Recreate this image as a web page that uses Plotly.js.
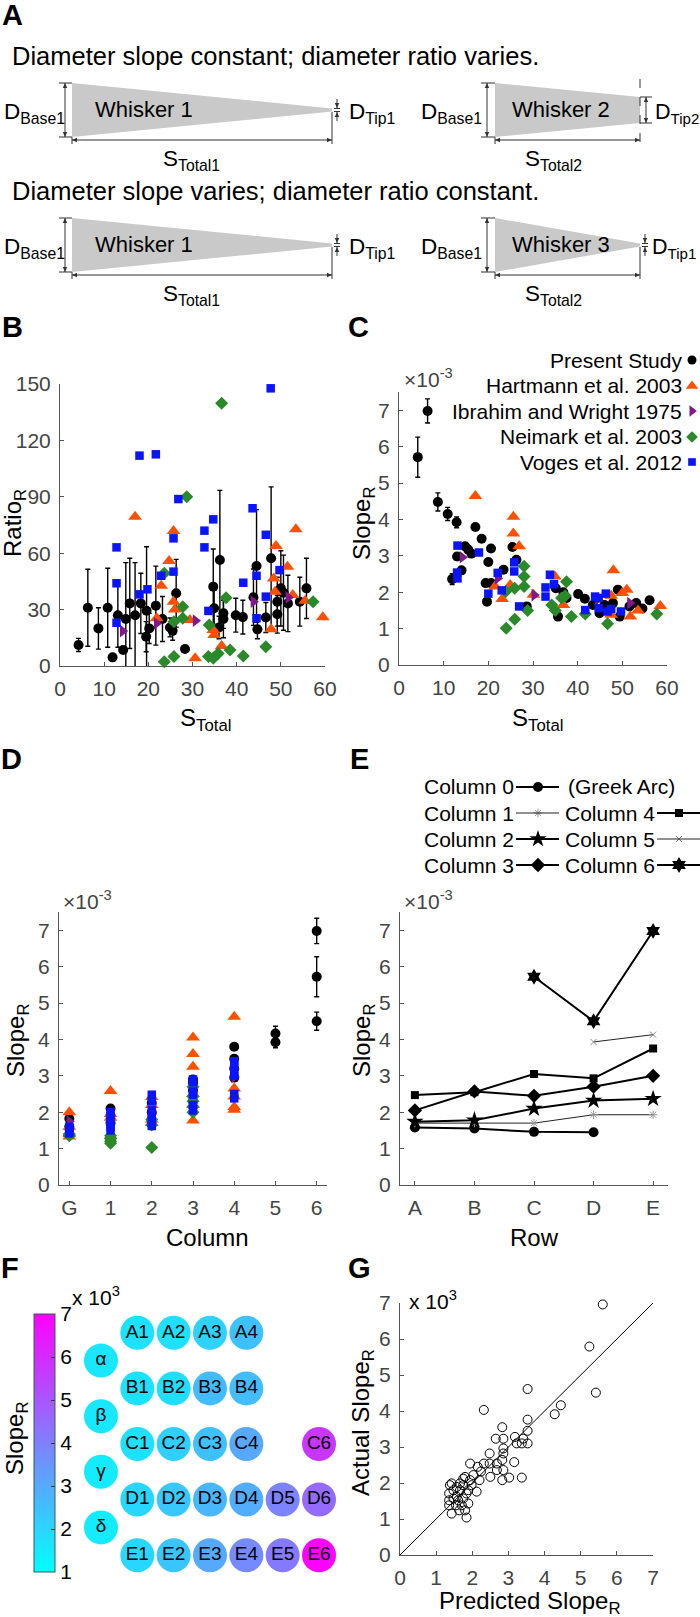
<!DOCTYPE html>
<html><head><meta charset="utf-8">
<script src="https://cdn.plot.ly/plotly-3.0.1.min.js"></script>
<style>html,body{margin:0;padding:0;background:#fff}#chart{width:700px;height:1617px}</style>
</head><body><div id="chart"></div>
<script>
// ---------------- DATA ----------------
// Panel B: Ratio_R vs S_Total
const bPresS = [4.2,6.3,8.7,10.8,11.9,13.1,14.3,14.9,15.8,17.0,18.3,19.5,19.6,20.2,21.7,23.2,24.9,25.5,26.3,28.3,34.7,34.9,36.0,36.2,37.0,37.0,39.8,41.4,43.8,44.5,44.7,46.6,47.8,49.2,49.2,50.0,50.6,51.6,54.3,55.8];
const bPresRatio = [11.2,31.0,20.0,31.0,4.6,27.0,8.5,25.0,33.3,27.0,33.3,15.6,29.4,20.0,32.1,25.0,20.5,18.7,38.7,9.0,42.2,30.7,20.5,56.4,28.0,25.0,27.0,26.0,36.6,53.2,19.5,25.8,57.3,27.5,34.2,41.3,39.0,33.3,34.2,41.3];
const bPresErr = [3.5,20.5,11,21,0,17,0,30,24,28,16,8,34,8,21,12,5,5,18,0,20,10,6,37,8,10,9,9,15,30,5,8,38,10,13,20,20,15,13,16];
const bHartS = [17.0,25.7,24.7,22.9,21.9,25.7,26.0,29.4,30.6,34.7,34.9,36.6,47.8,48.9,48.4,48.7,51.5,52.7,53.4,55.5,59.5];
const bHartRatio = [79.4,71.8,55.9,42.7,25.4,34.2,30.0,24.5,4.1,19.1,16.5,10.6,19.5,63.8,46.6,39.5,52.8,37.8,72.7,34.7,25.9];
const bIbrS = [14.2,21.9,30.7,43.8,51.7];
const bIbrRatio = [18.6,22.7,24.1,34.2,36.5];
const bNeiS = [23.6,27.8,28.7,23.6,25.8,27.8,25.8,33.6,34.7,35.8,38.5,41.5,46.6,37.6,33.8,36.6,57.3];
const bNeiRatio = [49.3,31.5,90.0,2.3,5.0,25.4,23.6,5.0,4.1,6.7,8.5,5.3,10.3,36.3,21.8,139.7,34.2];
const bVogS = [47.7,18.0,21.7,26.8,12.8,12.8,25.7,25.7,22.9,32.7,34.7,32.7,43.6,46.6,49.7,41.5,44.5,46.6,18.0,19.8,12.8,33.6,44.5];
const bVogRatio = [147.7,111.9,112.6,88.8,63.1,44.0,67.9,50.2,48.0,72.0,78.0,63.1,83.9,69.8,51.0,44.3,48.0,36.9,38.1,40.8,23.0,29.3,25.4];

// Panel C: Slope_R (x10^-3) vs S_Total
const cPresS = [4.2,6.4,8.7,10.9,12.9,17.1,18.5,20.6,20.0,14.8,15.5,16.2,13.0,14.0,11.9,19.4,20.6,19.7,23.4,25.4,26.3,28.6,35.1,35.6,36.8,37.5,40.1,41.6,43.4,44.9,46.0,49.0,49.4,47.9,51.6,53.1,54.5,56.1];
const cPresSlope = [5.71,6.98,4.48,4.15,3.92,3.79,3.47,3.20,2.83,3.26,3.17,3.06,2.98,2.60,2.36,2.25,2.25,1.74,2.62,3.24,2.89,1.61,2.11,1.33,2.00,1.84,1.95,1.82,1.65,1.42,1.65,2.07,1.33,1.70,1.61,1.70,1.55,1.78];
const cPresErr = [0.55,0.33,0.25,0.18,0.15,0,0,0,0,0,0,0,0.1,0.1,0.15,0,0,0,0,0,0,0,0,0,0,0,0,0,0,0,0,0,0,0,0,0,0,0];
const cHartS = [17.1,25.6,25.6,26.9,23.1,21.5,24.9,30.1,34.9,36.8,48.0,47.5,47.5,50.0,51.0,51.8,53.5,58.5];
const cHartSlope = [4.64,4.07,3.61,3.26,1.81,2.16,2.20,1.93,2.43,1.65,2.60,1.90,1.38,1.98,2.07,1.33,1.50,1.62];
const cIbrS = [14.2,22.1,30.3,44.5,51.7];
const cIbrSlope = [2.96,2.38,1.92,1.80,1.70];
const cNeiS = [28.0,28.0,28.0,25.9,23.9,24.0,25.9,28.8,37.5,36.4,34.2,35.0,38.6,41.7,46.7,57.7,37.2];
const cNeiSlope = [2.71,2.43,2.16,2.11,2.02,1.01,1.26,1.50,2.29,1.84,1.65,1.50,1.33,1.40,1.13,1.40,1.90];
const cVogS = [13.1,17.9,13.0,13.1,22.1,23.0,20.0,25.8,25.8,26.9,33.8,34.7,32.8,32.8,41.7,43.9,44.7,44.7,46.3,46.7,47.5,49.7];
const cVogSlope = [3.28,3.09,2.54,2.38,2.53,2.05,1.96,2.82,2.57,1.61,2.48,2.22,2.13,1.88,1.51,1.88,1.84,1.56,1.96,1.47,1.54,1.47];

// Panel D: Slope_R by column
const columnLabels = ['G','1','2','3','4','5','6'];
const dPresCol = [0,0,0,1,1,1,2,2,2,3,3,3,3,4,4,4,4,5,5,6,6,6];
const dPresSlope = [1.82,1.60,1.55,2.10,1.90,1.70,2.25,2.00,1.75,2.90,2.80,2.60,2.30,3.80,3.47,3.20,2.95,4.16,3.92,6.98,5.72,4.50];
const dPresErr = [0,0,0,0,0,0,0,0,0,0,0,0,0,0,0,0,0,0.2,0.15,0.35,0.55,0.25];
const dHartCol = [0,0,0,0,1,1,1,1,2,2,2,2,3,3,3,3,3,3,4,4,4,4,4];
const dHartSlope = [2.00,1.60,1.40,1.33,2.58,1.95,1.85,1.35,2.42,2.20,1.80,1.70,4.05,3.60,3.25,2.50,2.20,1.77,4.62,2.65,2.43,2.14,2.07];
const dIbrCol = [0,1,2,3,4];
const dIbrSlope = [1.75,1.90,1.95,2.43,2.97];
const dNeiCol = [0,0,0,1,1,1,1,2,2,2,3,3,3,3,3];
const dNeiSlope = [1.38,1.35,1.40,1.27,1.20,1.15,1.35,1.03,1.80,1.65,2.70,2.43,2.30,2.16,2.00];
const dVogCol = [0,0,0,0,0,1,1,1,1,1,2,2,2,2,2,2,3,3,3,3,3,3,4,4,4,4,4,4];
const dVogSlope = [1.60,1.50,1.47,1.55,1.42,2.00,1.88,1.75,1.60,1.50,2.48,2.30,2.05,1.95,1.80,1.62,2.90,2.82,2.57,2.48,2.20,2.05,3.40,3.28,3.10,3.00,2.50,2.38];

// Panel E: mean Slope_R per row for each column
const rowLabels = ['A','B','C','D','E'];
const eCol0 = [1.58,1.55,1.46,1.45,null];
const eCol1 = [1.70,1.70,1.70,1.93,1.93];
const eCol2 = [1.74,1.78,2.10,2.32,2.37];
const eCol3 = [2.05,2.57,2.45,2.70,3.00];
const eCol4 = [2.47,2.55,3.05,2.93,3.75];
const eCol5 = [null,null,null,3.93,4.13];
const eCol6 = [null,null,5.72,4.50,6.98];

// Panel F: whisker array map
const fLabels = ['α','β','γ','δ','A1','A2','A3','A4','B1','B2','B3','B4','C1','C2','C3','C4','C6','D1','D2','D3','D4','D5','D6','E1','E2','E3','E4','E5','E6'];
const fCol = [0,0,0,0,1,2,3,4,1,2,3,4,1,2,3,4,6,1,2,3,4,5,6,1,2,3,4,5,6];
const fRow = [0.5,1.5,2.5,3.5,0,0,0,0,1,1,1,1,2,2,2,2,2,3,3,3,3,3,3,4,4,4,4,4,4];
const fSlope = [1.58,1.55,1.46,1.45,1.70,1.74,2.05,2.47,1.70,1.78,2.57,2.55,1.70,2.10,2.45,3.05,5.72,1.93,2.32,2.70,2.93,3.93,4.50,1.93,2.37,3.00,3.75,4.13,6.98];
const cbTicks = [1,2,3,4,5,6,7];

// Panel G: predicted vs actual
const gPred = [5.61,5.24,5.42,3.53,2.32,4.45,4.28,3.53,3.53,3.53,3.37,2.83,2.65,2.86,3.18,3.41,3.23,3.37,2.86,2.86,2.83,2.86,2.83,3.02,3.16,2.48,2.48,2.68,2.68,2.32,2.50,2.24,2.15,2.20,1.94,1.94,2.03,1.98,2.12,1.80,1.75,1.84,1.89,1.80,1.84,1.66,1.57,1.48,1.38,1.36,1.36,1.36,1.43,1.55,1.61,1.71,1.75,1.57,1.75,1.48,1.89,1.64,1.43,1.66];
const gAct = [6.96,5.79,4.51,4.61,4.03,4.16,3.91,3.76,3.45,3.10,2.15,3.55,3.23,3.23,3.28,3.23,3.10,3.10,2.96,2.82,2.64,2.36,2.08,2.15,2.58,2.82,2.54,2.54,2.36,2.54,2.17,2.32,2.45,2.08,2.54,2.08,2.22,1.94,1.76,2.17,1.94,1.71,1.43,1.24,1.04,1.80,1.62,1.80,1.94,1.71,1.52,1.38,1.15,1.38,1.52,1.38,1.57,1.89,2.12,1.57,1.80,1.24,1.99,1.99];
const unityLine = [0,7];

const sourceNames = ['Present Study','Hartmann et al. 2003','Ibrahim and Wright 1975','Neimark et al. 2003','Voges et al. 2012'];
const eLegendNames = ['Column 0','Column 1','Column 2','Column 3','Column 4','Column 5','Column 6'];

// ---------------- STYLE ----------------
const FONT = 'Liberation Sans, Arial, Helvetica, sans-serif';
const W = 700, H = 1617;
const P = x => x / W, Q = y => 1 - y / H;
const COL = {pres:'#000000', hart:'#ff5000', ibr:'#80198c', nei:'#2a8a2a', vog:'#0a14ff'};
const SYM = {pres:'circle', hart:'triangle-up', ibr:'triangle-right', nei:'diamond', vog:'square'};
const SIZE = {pres:10, hart:12, ibr:11, nei:10, vog:8.5};

function srcTrace(key, xs, ys, xa, ya, err) {
  const t = {type:'scatter', mode:'markers', x:xs, y:ys, xaxis:xa, yaxis:ya, cliponaxis:false,
    marker:{symbol:SYM[key], color:COL[key], size:SIZE[key], line:{width:0}}, showlegend:false, hoverinfo:'skip'};
  if (err) t.error_y = {type:'data', array:err, visible:true, color:'#000', thickness:1.4, width:2.5};
  return t;
}

const traces = [];
// B
traces.push(srcTrace('pres', bPresS, bPresRatio, 'x', 'y', bPresErr));
traces.push(srcTrace('hart', bHartS, bHartRatio, 'x', 'y'));
traces.push(srcTrace('ibr', bIbrS, bIbrRatio, 'x', 'y'));
traces.push(srcTrace('nei', bNeiS, bNeiRatio, 'x', 'y'));
traces.push(srcTrace('vog', bVogS, bVogRatio, 'x', 'y'));
// C
traces.push(srcTrace('pres', cPresS, cPresSlope, 'x2', 'y2', cPresErr));
traces.push(srcTrace('hart', cHartS, cHartSlope, 'x2', 'y2'));
traces.push(srcTrace('ibr', cIbrS, cIbrSlope, 'x2', 'y2'));
traces.push(srcTrace('nei', cNeiS, cNeiSlope, 'x2', 'y2'));
traces.push(srcTrace('vog', cVogS, cVogSlope, 'x2', 'y2'));
// D
traces.push(srcTrace('pres', dPresCol, dPresSlope, 'x3', 'y3', dPresErr));
traces.push(srcTrace('hart', dHartCol, dHartSlope, 'x3', 'y3'));
traces.push(srcTrace('ibr', dIbrCol, dIbrSlope, 'x3', 'y3'));
traces.push(srcTrace('nei', dNeiCol, dNeiSlope, 'x3', 'y3'));
traces.push(srcTrace('vog', dVogCol, dVogSlope, 'x3', 'y3'));
// E
const eStyles = [
  {sym:'circle', size:10, lw:2, lc:'#000', mc:'#000'},
  {sym:'asterisk-open', size:7, lw:1, lc:'#222', mc:'#999'},
  {sym:'star', size:13, lw:2, lc:'#000', mc:'#000'},
  {sym:'diamond', size:11, lw:2, lc:'#000', mc:'#000'},
  {sym:'square', size:8, lw:2, lc:'#000', mc:'#000'},
  {sym:'x-thin-open', size:6, lw:1, lc:'#222', mc:'#888'},
  {sym:'hexagram', size:12, lw:2, lc:'#000', mc:'#000'}
];
const eData = [eCol0,eCol1,eCol2,eCol3,eCol4,eCol5,eCol6];
const rowIdx = rowLabels.map((_, i) => i);
eData.forEach((ys, i) => {
  const s = eStyles[i];
  traces.push({type:'scatter', mode:'lines+markers', x:rowIdx, y:ys, xaxis:'x4', yaxis:'y4', cliponaxis:false,
    line:{color:s.lc, width:s.lw}, marker:{symbol:s.sym, size:s.size, color:s.mc, line:{color:s.mc, width: s.sym.endsWith('open') ? 1 : 0}},
    showlegend:false, hoverinfo:'skip', connectgaps:false});
});
// G
traces.push({type:'scatter', mode:'lines', x:unityLine, y:unityLine, xaxis:'x5', yaxis:'y5', line:{color:'#000', width:1}, showlegend:false, hoverinfo:'skip'});
traces.push({type:'scatter', mode:'markers', x:gPred, y:gAct, xaxis:'x5', yaxis:'y5', cliponaxis:false,
  marker:{symbol:'circle-open', size:9, color:'#000', line:{width:1}}, showlegend:false, hoverinfo:'skip'});
// F
traces.push({type:'scatter', mode:'markers+text', x:fCol, y:fRow, text:fLabels, xaxis:'x6', yaxis:'y6', cliponaxis:false,
  textposition:'middle center', textfont:{family:FONT, size:19, color:'#000'},
  marker:{size:34, color:fSlope, cmin:1, cmax:7, colorscale:[[0,'#00ffff'],[1,'#ff00ff']], line:{width:0},
    showscale:true, colorbar:{x:P(34), xanchor:'left', y:Q(1572), yanchor:'bottom', len:258/H, lenmode:'fraction',
      thickness:21, thicknessmode:'pixels', tickvals:cbTicks, ticks:'inside', ticklen:4, tickcolor:'#333',
      tickfont:{family:FONT, size:21, color:'#000'}, outlinecolor:'#2f5f5f', outlinewidth:1, xpad:0, ypad:0, ticklabelpad:1}},
  showlegend:false, hoverinfo:'skip'});

// Legend glyphs (overlay in pixel space)
const legC_y = [360,386,411,437,462];
const legC_keys = ['pres','hart','ibr','nei','vog'];
legC_keys.forEach((k, i) => {
  traces.push({type:'scatter', mode:'markers', x:[692], y:[legC_y[i]], xaxis:'x7', yaxis:'y7', cliponaxis:false,
    marker:{symbol:SYM[k], color:COL[k], size:SIZE[k]*0.9, line:{width:0}}, showlegend:false, hoverinfo:'skip'});
});
const legE_pos = [[538,787],[538,813],[538,839],[538,865],[679,813],[679,839],[679,865]];
legE_pos.forEach((p, i) => {
  const s = eStyles[i];
  traces.push({type:'scatter', mode:'markers', x:[p[0]], y:[p[1]], xaxis:'x7', yaxis:'y7', cliponaxis:false,
    marker:{symbol:s.sym, size:s.size, color:s.mc, line:{color:s.mc, width: s.sym.endsWith('open') ? 1 : 0}}, showlegend:false, hoverinfo:'skip'});
});

// ---------------- LAYOUT ----------------
function axis(extra) {
  return Object.assign({showline:true, linecolor:'#555', linewidth:1, ticks:'inside', ticklen:4, tickcolor:'#555', tickwidth:1,
    showgrid:false, zeroline:false, fixedrange:true, tickfont:{family:FONT, size:21, color:'#444'}, ticklabelstandoff:4}, extra);
}
const shapes = [];
const LC = '#333';
function ln(x0,y0,x1,y1,dash) { shapes.push({type:'line', xref:'paper', yref:'paper', x0:P(x0), y0:Q(y0), x1:P(x1), y1:Q(y1), line:{color:LC, width:1, dash:dash||'solid'}}); }
function head(x,y,dir) {
  const L = 5, w = 2.2; let pts;
  if (dir==='up') pts = [[x,y],[x-w,y+L],[x+w,y+L]];
  if (dir==='down') pts = [[x,y],[x-w,y-L],[x+w,y-L]];
  if (dir==='left') pts = [[x,y],[x+L,y-w],[x+L,y+w]];
  if (dir==='right') pts = [[x,y],[x-L,y-w],[x-L,y+w]];
  shapes.push({type:'path', xref:'paper', yref:'paper', path:'M '+pts.map(p=>P(p[0])+','+Q(p[1])).join(' L ')+' Z', fillcolor:LC, line:{width:0}});
}
function dblV(x,y0,y1){ ln(x,y0,x,y1); head(x,y0,'up'); head(x,y1,'down'); }
function dblH(y,x0,x1){ ln(x0,y,x1,y); head(x0,y,'left'); head(x1,y,'right'); }
function poly(pts){ shapes.push({type:'path', xref:'paper', yref:'paper', layer:'below', path:'M '+pts.map(p=>P(p[0])+','+Q(p[1])).join(' L ')+' Z', fillcolor:'#c9c9c9', line:{width:0}}); }
function tipMarks(x,yc){ ln(x-3,yc-1.5,x+3,yc-1.5); ln(x-3,yc+1.5,x+3,yc+1.5); ln(x,yc-11,x,yc-2); head(x,yc-2,'down'); ln(x,yc+2,x,yc+11); head(x,yc+2,'up'); }

[0,135].forEach(o => {
  poly([[72,83+o],[332,108.5+o],[332,111.5+o],[72,137+o]]);
  dblV(65,83+o,137+o); ln(59,83+o,72,83+o); ln(59,137+o,72,137+o);
  dblH(140+o,72,332); ln(72,137+o,72,144+o); ln(332,112+o,332,144+o);
  tipMarks(337,110+o);
  dblV(487,83+o,137+o); ln(481,83+o,495,83+o); ln(481,137+o,495,137+o);
  dblH(140+o,495,640); ln(495,137+o,495,144+o);
});
poly([[495,83],[640,97],[640,123],[495,137]]);
ln(640,79,640,145,'dash');
dblV(646,97,123); ln(640,97,652,97); ln(640,123,652,123);
poly([[495,218],[640,243.5],[640,246.5],[495,272]]);
ln(640,247,640,279);
tipMarks(645,245);

// E legend lines
legE_pos.forEach((p, i) => {
  const s = eStyles[i];
  shapes.push({type:'line', xref:'paper', yref:'paper', x0:P(p[0]-22), x1:P(p[0]+21), y0:Q(p[1]), y1:Q(p[1]), line:{color:s.lc, width:s.lw}});
});

const ann = [];
function txt(t, x, y, opt) {
  ann.push(Object.assign({text:t, x:P(x), y:Q(y), xref:'paper', yref:'paper', showarrow:false, xanchor:'center', yanchor:'middle',
    font:{family:FONT, size:24, color:'#000'}}, opt||{}));
}
// panel labels
[['A',12,15],['B',12,327],['C',358,327],['D',11,759],['E',359,759],['F',10,1268],['G',360,1268]].forEach(l =>
  txt('<b>'+l[0]+'</b>', l[1], l[2], {font:{family:FONT, size:29, color:'#000'}}));
// panel A texts
const aLine = {family:FONT, size:25.5, color:'#000'};
const aLab = {family:FONT, size:22.5, color:'#000'};
txt('Diameter slope constant; diameter ratio varies.', 10, 56, {xanchor:'left', font:aLine});
txt('Diameter slope varies; diameter ratio constant.', 10, 191, {xanchor:'left', font:aLine});
[0,135].forEach((o, r) => {
  txt('D<sub>Base1</sub>', 2, 113+o, {xanchor:'left', font:aLab});
  txt('Whisker 1', 144, 110+o, {font:{family:FONT, size:22, color:'#000'}});
  txt('S<sub>Total1</sub>', 191, 160+o, {font:aLab});
  txt('D<sub>Base1</sub>', 484, 113+o, {xanchor:'right', font:aLab});
  txt(r===0 ? 'Whisker 2' : 'Whisker 3', 561, 110+o, {font:{family:FONT, size:22, color:'#000'}});
  txt('S<sub>Total2</sub>', 553, 160+o, {font:aLab});
  txt('D<sub>Tip1</sub>', 347, 113+o, {xanchor:'left', font:aLab});
});
txt('D<sub>Tip2</sub>', 653, 113, {xanchor:'left', font:{family:FONT, size:21.5, color:'#000'}});
txt('D<sub>Tip1</sub>', 650, 248, {xanchor:'left', font:{family:FONT, size:21.5, color:'#000'}});

// axis titles
txt('Ratio<sub>R</sub>', 14, 523, {textangle:-90});
txt('Slope<sub>R</sub>', 363, 523, {textangle:-90});
txt('S<sub>Total</sub>', 205, 719);
txt('S<sub>Total</sub>', 537, 719);
txt('Slope<sub>R</sub>', 17, 1040, {textangle:-90});
txt('Slope<sub>R</sub>', 363, 1040, {textangle:-90});
txt('Column', 207, 1237);
txt('Row', 534, 1237);
txt('Slope<sub>R</sub>', 16, 1438, {textangle:-90});
txt('Actual Slope<sub>R</sub>', 362, 1423, {textangle:-90});
txt('Predicted Slope<sub>R</sub>', 530, 1602);
// multipliers
const gray = {family:FONT, size:21, color:'#444'};
txt('×10<sup>-3</sup>', 402, 378, {xanchor:'left', font:gray});
txt('×10<sup>-3</sup>', 61, 900, {xanchor:'left', font:gray});
txt('×10<sup>-3</sup>', 402, 900, {xanchor:'left', font:gray});
txt('x 10<sup>3</sup>', 70, 1296, {xanchor:'left', font:{family:FONT, size:21, color:'#000'}});
txt('x 10<sup>3</sup>', 407, 1300, {xanchor:'left', font:{family:FONT, size:21, color:'#000'}});
// C legend texts
sourceNames.forEach((n, i) => txt(n, 684, legC_y[i], {xanchor:'right', font:{family:FONT, size:21, color:'#000'}}));
// E legend texts
const lf = {family:FONT, size:21, color:'#000'};
[0,1,2,3].forEach(i => txt(eLegendNames[i], 516, legE_pos[i][1], {xanchor:'right', font:lf}));
[4,5,6].forEach(i => txt(eLegendNames[i], 657, legE_pos[i][1], {xanchor:'right', font:lf}));
txt('(Greek Arc)', 566, 787, {xanchor:'left', font:lf});

const layout = {
  width:W, height:H, margin:{l:0,r:0,t:0,b:0}, paper_bgcolor:'#fff', plot_bgcolor:'rgba(0,0,0,0)', showlegend:false,
  font:{family:FONT},
  xaxis: axis({domain:[P(60),P(325)], range:[0,60], anchor:'y', tickvals:[0,10,20,30,40,50,60]}),
  yaxis: axis({domain:[Q(666),Q(384)], range:[0,150], anchor:'x', tickvals:[0,30,60,90,120,150]}),
  xaxis2: axis({domain:[P(399),P(667)], range:[0,60], anchor:'y2', tickvals:[0,10,20,30,40,50,60]}),
  yaxis2: axis({domain:[Q(665),Q(392)], range:[0,7.5], anchor:'x2', tickvals:[0,1,2,3,4,5,6,7]}),
  xaxis3: axis({domain:[P(59),P(327)], range:[-0.25,6.25], anchor:'y3', tickvals:columnLabels.map((_,i)=>i), ticktext:columnLabels}),
  yaxis3: axis({domain:[Q(1185),Q(912)], range:[0,7.5], anchor:'x3', tickvals:[0,1,2,3,4,5,6,7]}),
  xaxis4: axis({domain:[P(400),P(668)], range:[-0.25,4.25], anchor:'y4', tickvals:rowIdx, ticktext:rowLabels}),
  yaxis4: axis({domain:[Q(1185),Q(912)], range:[0,7.5], anchor:'x4', tickvals:[0,1,2,3,4,5,6,7]}),
  xaxis5: axis({domain:[P(400),P(653)], range:[0,7], anchor:'y5', tickvals:[0,1,2,3,4,5,6,7]}),
  yaxis5: axis({domain:[Q(1555),Q(1303)], range:[0,7], anchor:'x5', tickvals:[0,1,2,3,4,5,6,7]}),
  xaxis6: {domain:[P(82.8),P(337.2)], range:[-0.5,6.5], anchor:'y6', visible:false, fixedrange:true},
  yaxis6: {domain:[Q(1583),Q(1305)], range:[4.5,-0.5], anchor:'x6', visible:false, fixedrange:true},
  xaxis7: {domain:[0,1], range:[0,W], anchor:'y7', visible:false, fixedrange:true},
  yaxis7: {domain:[0,1], range:[H,0], anchor:'x7', visible:false, fixedrange:true},
  shapes: shapes,
  annotations: ann
};
Plotly.newPlot('chart', traces, layout, {displayModeBar:false, staticPlot:true});
</script></body></html>
